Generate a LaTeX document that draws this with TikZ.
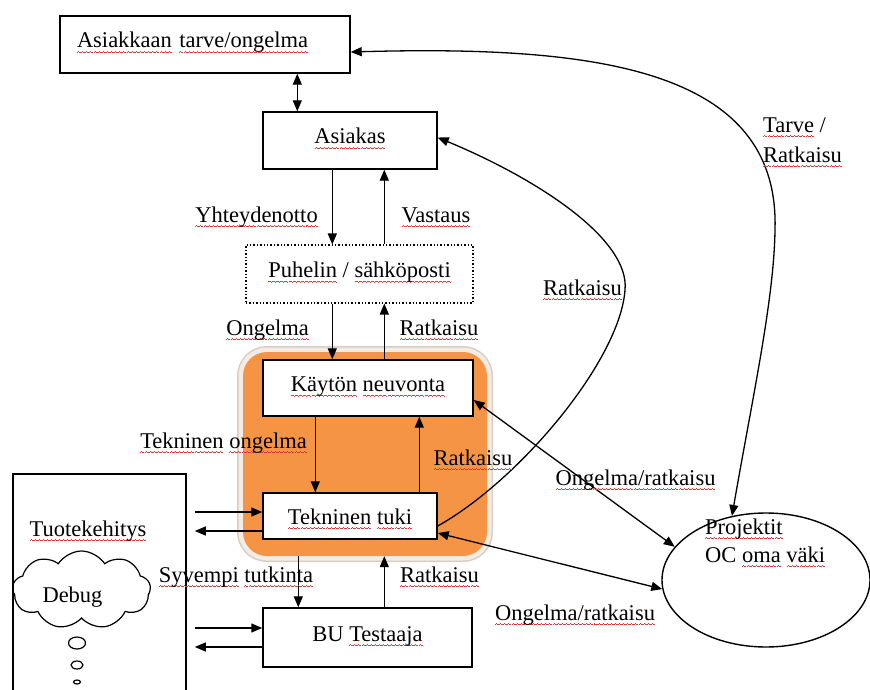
\documentclass[tikz,border=0pt]{standalone}
\usepackage{fontspec}
\setmainfont{Liberation Serif}
\usetikzlibrary{arrows.meta,shapes.geometric,shapes.symbols}

\definecolor{wave}{RGB}{214,60,60}
\definecolor{panel}{RGB}{246,148,70}
\definecolor{rim}{RGB}{243,236,228}
\definecolor{rimedge}{RGB}{215,205,195}

% red wavy underline for a word, built from a repeated small zigzag
\newsavebox\wavebox
\newsavebox\wordbox
\newcommand\wv[1]{\leavevmode\sbox\wordbox{#1}%
  \rlap{\hbox to\wd\wordbox{\xleaders\copy\wavebox\hfil}}\usebox\wordbox}

\begin{document}
\sbox\wavebox{\color{wave}\rule[-4.4pt]{1pt}{0.8pt}\rule[-3.8pt]{1pt}{0.8pt}\rule[-4.4pt]{1pt}{0.8pt}\rule[-5.0pt]{1pt}{0.8pt}}
\begin{tikzpicture}[x=1pt,y=-1pt,
  every node/.style={font=\fontsize{22.5}{28}\selectfont, inner sep=0pt},
  box/.style={draw, line width=1.4pt, fill=white, text height=12pt, text depth=5pt},
  lbl/.style={anchor=base},
  tip/.style={-{Triangle[length=11pt,width=9pt]}},
  arr/.style={line width=1.3pt, tip},
  dbl/.style={line width=1.3pt, {Triangle[length=11pt,width=9pt]}-{Triangle[length=11pt,width=9pt]}},
  panelbox/.style={rounded corners=24pt, fill=panel,
    preaction={draw=rimedge, line width=12pt, rounded corners=24pt},
    preaction={draw=rim, line width=9pt, rounded corners=24pt}}
]
\useasboundingbox (0,0) rectangle (870,690);

% orange support panel
\node[panelbox, minimum width=244pt, minimum height=204pt] (panel) at (365,454) {};

% boxes
\node[box, minimum width=290pt, minimum height=57pt, text width=256pt, inner xsep=17pt, align=left]
  (tarve) at (205,44.5) {\wv{Asiakkaan} \wv{tarve/ongelma}};
\node[box, minimum width=174pt, minimum height=57pt] (asiakas) at (350,140.5) {\wv{Asiakas}};
\node[box, dotted, line width=1.1pt, minimum width=227pt, minimum height=58pt] (puhelin) at (359.5,274) {\wv{Puhelin} / \wv{sähköposti}};
\node[box, minimum width=210pt, minimum height=56pt] (kaytto) at (368,388) {\wv{Käytön} \wv{neuvonta}};
\node[box, minimum width=174pt, minimum height=46pt, text height=19pt, text depth=3pt] (tek) at (350,516) {\wv{Tekninen} \wv{tuki}};
\node[box, minimum width=209pt, minimum height=59pt] (bu) at (367.5,637.5) {BU \wv{Testaaja}};
\node[box, line width=1.6pt, minimum width=173pt, minimum height=246pt] (tuote) at (99.5,597) {};
\node[draw, line width=1.4pt, ellipse, minimum width=208pt, minimum height=134pt] (proj) at (766,580) {};

% product development contents
\node[lbl] (tuotelbl) at (88,536) {\wv{Tuotekehitys}};
\node[draw, line width=1.2pt, cloud, cloud puffs=9, cloud puff arc=115, aspect=1.8,
  minimum width=138pt, minimum height=78pt] (debug) at (81.5,590) {};
\node[lbl] (debuglbl) at (72.5,602) {Debug};
\node[draw, line width=1.2pt, ellipse, minimum width=17pt, minimum height=12pt] (b1) at (77,643) {};
\node[draw, line width=1.2pt, ellipse, minimum width=12pt, minimum height=8pt] (b2) at (77,665) {};
\node[draw, line width=1.2pt, ellipse, minimum width=7pt, minimum height=4pt] (b3) at (77,682) {};

% project text
\node[anchor=base west, align=left, font=\fontsize{22.5}{28}\selectfont] (projlbl) at (705,562)
  {\wv{Projektit}\\OC \wv{oma} \wv{väki}};

% vertical flow
\coordinate (c1) at ([xshift=35pt]asiakas.north west);
\draw[dbl] (c1) -- (c1 |- tarve.south);
\coordinate (c2) at ([xshift=70pt]asiakas.south west);
\coordinate (c3) at ([xshift=122pt]asiakas.south west);
\draw[arr] (c2) -- (c2 |- puhelin.north);
\draw[arr] (c3 |- puhelin.north) -- (c3);
\draw[arr] (c2 |- puhelin.south) -- (c2 |- kaytto.north);
\draw[arr] (c3 |- kaytto.north) -- (c3 |- puhelin.south);
\coordinate (c4) at ([xshift=53pt]kaytto.south west);
\coordinate (c5) at ([xshift=157pt]kaytto.south west);
\draw[arr] (c4) -- (c4 |- tek.north);
\draw[arr] (c5 |- tek.north) -- (c5);
\coordinate (c6) at ([xshift=36pt]bu.north west);
\coordinate (c7) at ([xshift=122pt]bu.north west);
\draw[arr] (c6 |- panel.south) -- (c6);
\draw[arr] (c7) -- (c7 |- panel.south);

% exchanges with product development
\coordinate (tq) at ([xshift=8pt]tuote.east);
\coordinate (k1) at ([yshift=4pt]tek.west);
\coordinate (k2) at ([yshift=-15pt]tek.west);
\coordinate (k3) at ([yshift=9.5pt]bu.west);
\coordinate (k4) at ([yshift=-9.5pt]bu.west);
\draw[arr] (tq |- k1) -- (k1);
\draw[arr] (k2) -- (tq |- k2);
\draw[arr] (tq |- k3) -- (k3);
\draw[arr] (k4) -- (tq |- k4);

% links to projects
\draw[dbl] ([yshift=-12pt]kaytto.east) -- (proj.160);
\draw[dbl] ([yshift=-17pt]tek.east) -- (proj.185);
\draw[dbl] (proj.118) .. controls (752,400) and (774,300) .. (775,230)
  .. controls (780,70) and (600,45) .. ([yshift=-7.5pt]tarve.east);
\draw[arr] ([yshift=-10pt]tek.east) .. controls (520,480) and (620,360) .. (625,290)
  .. controls (630,240) and (540,180) .. ([yshift=3pt]asiakas.east);

% connector labels
\node[lbl] (l1) at (256.5,222) {\wv{Yhteydenotto}};
\node[lbl] (l2) at (436,222) {\wv{Vastaus}};
\node[lbl] (l3) at (267.5,335) {\wv{Ongelma}};
\node[lbl] (l4) at (439,335) {\wv{Ratkaisu}};
\node[lbl] (l5) at (223.5,448) {\wv{Tekninen} \wv{ongelma}};
\node[lbl] (l6) at (473,465) {\wv{Ratkaisu}};
\node[lbl] (l7) at (236,582) {\wv{Syvempi} \wv{tutkinta}};
\node[lbl] (l8) at (439.5,582) {\wv{Ratkaisu}};
\node[lbl] (l9) at (635.5,485) {\wv{Ongelma/ratkaisu}};
\node[lbl] (l10) at (575,620) {\wv{Ongelma/ratkaisu}};
\node[lbl] (l11) at (582.5,295) {\wv{Ratkaisu}};
\node[anchor=base west, align=left, font=\fontsize{22.5}{30}\selectfont] (l12) at (763,162)
  {\wv{Tarve} /\\\wv{Ratkaisu}};
\end{tikzpicture}
\end{document}
